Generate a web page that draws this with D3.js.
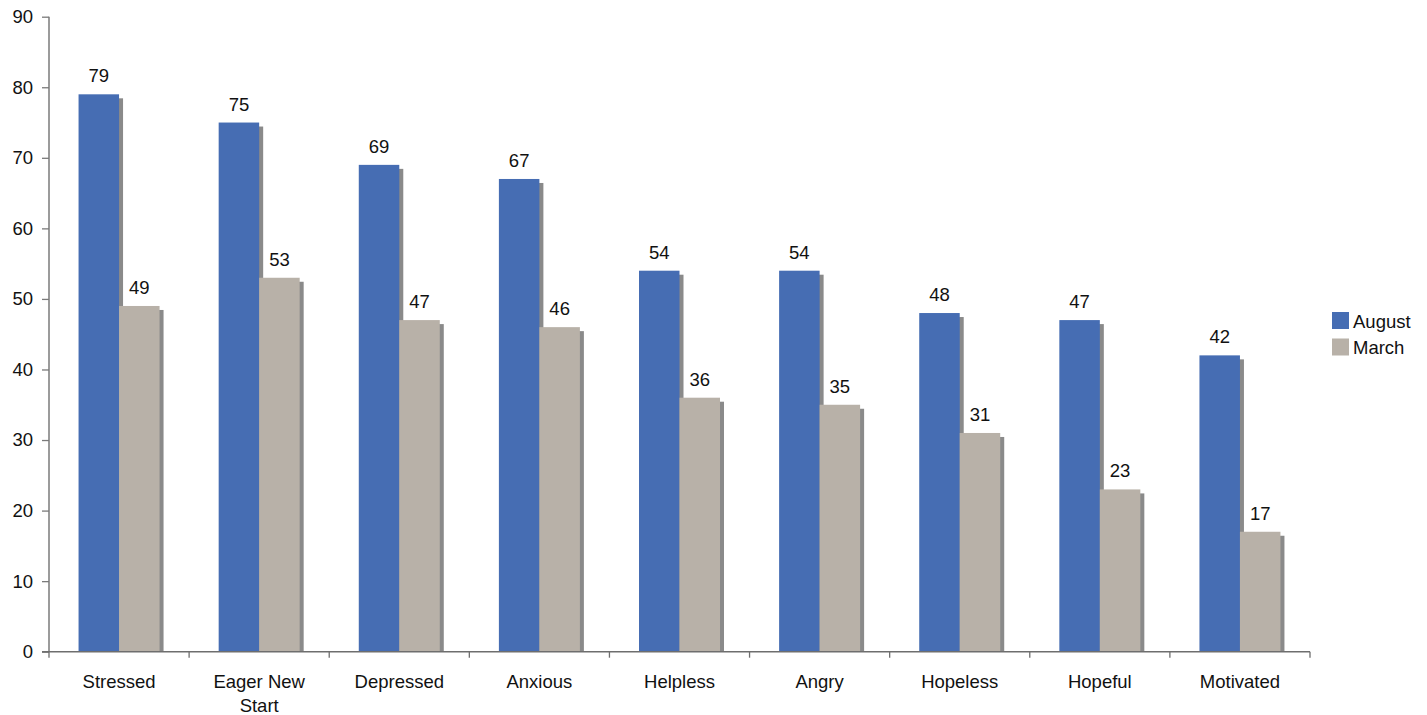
<!DOCTYPE html>
<html><head><meta charset="utf-8">
<script src="https://cdn.jsdelivr.net/npm/d3@7"></script>
<style>body{margin:0;background:#fff}svg{display:block}text{font-family:"Liberation Sans",Arial,Helvetica,sans-serif;fill:#111}</style>
</head><body>
<svg id="c" width="1427" height="715"></svg>
<script>
const categories = ["Stressed","Eager New Start","Depressed","Anxious","Helpless","Angry","Hopeless","Hopeful","Motivated"];
const august = [79,75,69,67,54,54,48,47,42];
const march = [49,53,47,46,36,35,31,23,17];
const seriesNames = ["August","March"];
const colors = ["#466db3","#b8b1a8"];
const yTicks = [0,10,20,30,40,50,60,70,80,90];

const FS = "18.5px";
const svg = d3.select("#c");
const x0 = 49, x1 = 1310, yTop = 16.7, yBot = 651.7;
const x = d3.scaleBand().domain(categories).range([x0,x1]);
const y = d3.scaleLinear().domain([0,90]).range([yBot,yTop]);
const barW = 40.5;
const data = [august, march];

const g = svg.append("g");
data.forEach((vals,si)=>{
  g.selectAll(".sh"+si).data(categories).enter().append("rect")
    .attr("x",(d,i)=>x(d)+x.bandwidth()/2 - barW + si*barW + 4)
    .attr("y",(d,i)=>y(vals[i])+4)
    .attr("width",barW)
    .attr("height",(d,i)=>yBot - y(vals[i]) - 4)
    .attr("fill","#8a8a8a");
});
data.forEach((vals,si)=>{
  g.selectAll(".b"+si).data(categories).enter().append("rect")
    .attr("x",(d,i)=>x(d)+x.bandwidth()/2 - barW + si*barW)
    .attr("y",(d,i)=>y(vals[i]))
    .attr("width",barW)
    .attr("height",(d,i)=>yBot - y(vals[i]))
    .attr("fill",colors[si]);
  g.selectAll(".l"+si).data(categories).enter().append("text")
    .attr("x",(d,i)=>x(d)+x.bandwidth()/2 - barW/2 + si*barW)
    .attr("y",(d,i)=>y(vals[i]) - 12)
    .attr("text-anchor","middle")
    .attr("font-size",FS)
    .text((d,i)=>vals[i]);
});

const ya = svg.append("g").attr("transform",`translate(${x0},0)`)
  .call(d3.axisLeft(y).tickValues(yTicks).tickSize(7).tickPadding(9));
ya.select(".domain").attr("stroke","#7a7a7a").attr("stroke-width",1.5).attr("d",`M0,${yTop}V${yBot}`);
ya.selectAll(".tick line").attr("stroke","#7a7a7a").attr("stroke-width",1.3);
ya.selectAll(".tick text").attr("font-size",FS).attr("fill","#111").attr("font-family","Liberation Sans, Arial, sans-serif");

const xa = svg.append("g").attr("transform",`translate(0,${yBot})`);
xa.append("line").attr("x1",x0-7).attr("x2",x1).attr("y1",0).attr("y2",0).attr("stroke","#6e6e6e").attr("stroke-width",1.5);
const bounds = categories.map(c=>x(c)).concat([x1]);
xa.selectAll(".xt").data(bounds).enter().append("line")
  .attr("x1",d=>d).attr("x2",d=>d).attr("y1",0).attr("y2",6).attr("stroke","#6e6e6e").attr("stroke-width",1.3);
const lines = {"Eager New Start":["Eager New","Start"]};
categories.forEach(c=>{
  const ls = lines[c] || [c];
  const t = xa.append("text").attr("text-anchor","middle").attr("font-size",FS);
  ls.forEach((l,k)=>t.append("tspan").attr("x",x(c)+x.bandwidth()/2).attr("y",36+k*24).text(l));
});

const lg = svg.append("g").attr("transform","translate(1332,312)");
seriesNames.forEach((n,i)=>{
  lg.append("rect").attr("x",0).attr("y",i*26.5).attr("width",17).attr("height",17).attr("fill",colors[i]);
  lg.append("text").attr("x",21).attr("y",i*26.5+15.5).attr("font-size",FS).text(n);
});
</script>
</body></html>
